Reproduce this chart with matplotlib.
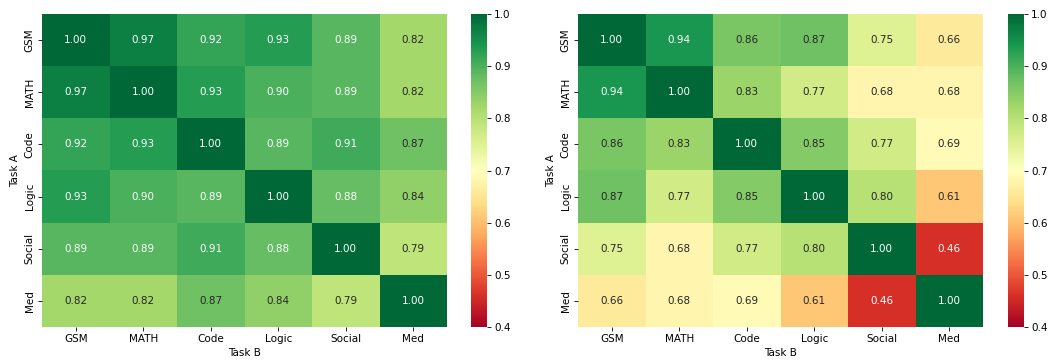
import numpy as np
import matplotlib
matplotlib.use('Agg')
import matplotlib.pyplot as plt
import seaborn as sns

tasks = ['GSM', 'MATH', 'Code', 'Logic', 'Social', 'Med']

left_vals = [
    [1.00, 0.97, 0.92, 0.93, 0.89, 0.82],
    [0.97, 1.00, 0.93, 0.90, 0.89, 0.82],
    [0.92, 0.93, 1.00, 0.89, 0.91, 0.87],
    [0.93, 0.90, 0.89, 1.00, 0.88, 0.84],
    [0.89, 0.89, 0.91, 0.88, 1.00, 0.79],
    [0.82, 0.82, 0.87, 0.84, 0.79, 1.00],
]

right_vals = [
    [1.00, 0.94, 0.86, 0.87, 0.75, 0.66],
    [0.94, 1.00, 0.83, 0.77, 0.68, 0.68],
    [0.86, 0.83, 1.00, 0.85, 0.77, 0.69],
    [0.87, 0.77, 0.85, 1.00, 0.80, 0.61],
    [0.75, 0.68, 0.77, 0.80, 1.00, 0.46],
    [0.66, 0.68, 0.69, 0.61, 0.46, 1.00],
]

W, H = 1050, 362
DPI = 75
fig = plt.figure(figsize=(W / DPI, H / DPI), dpi=DPI)

# pixel boxes (left, right) for heatmap and colorbar, shared top/bottom
top, bottom = 14, 327
boxes = [((42, 447), (471, 487)), ((578, 983), (1008, 1024))]

for (hm, cb), vals in zip(boxes, [left_vals, right_vals]):
    ax = fig.add_axes([hm[0] / W, (H - bottom) / H, (hm[1] - hm[0]) / W, (bottom - top) / H])
    cax = fig.add_axes([cb[0] / W, (H - bottom) / H, (cb[1] - cb[0]) / W, (bottom - top) / H])
    sns.heatmap(np.array(vals), ax=ax, cbar_ax=cax, cmap='RdYlGn', vmin=0.4, vmax=1.0,
                annot=True, fmt='.2f', xticklabels=tasks, yticklabels=tasks)
    ax.set_xlabel('Task B')
    ax.set_ylabel('Task A')
    cax.set_yticks([0.4, 0.5, 0.6, 0.7, 0.8, 0.9, 1.0])

plt.savefig('out.png', dpi=DPI)
plt.close()
